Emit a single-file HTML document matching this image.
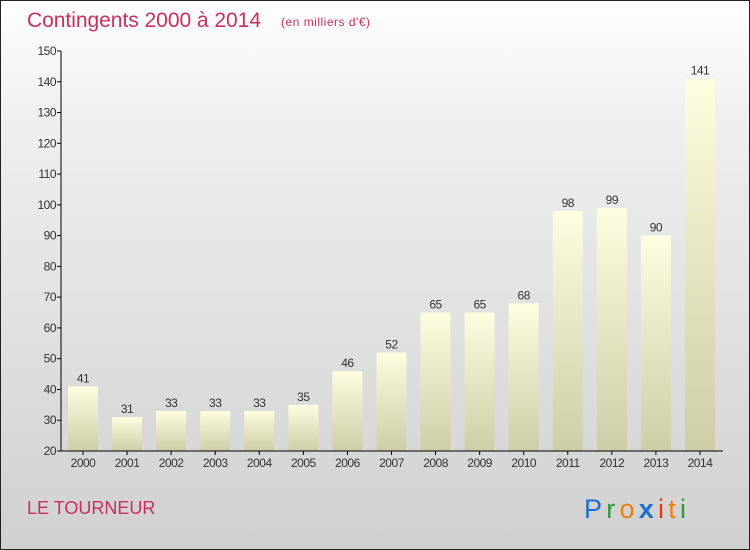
<!DOCTYPE html>
<html><head><meta charset="utf-8"><style>
body{margin:0}
#c{position:relative;width:748px;height:548px;border:1px solid #222;background:linear-gradient(#fefefe,#f0f0f0 20%,#d0d0d0);font-family:"Liberation Sans",sans-serif;overflow:hidden}
</style></head><body>
<div id="c">
<svg width="748" height="548" viewBox="0 0 748 548" font-family="Liberation Sans, sans-serif">
<defs><linearGradient id="bg" x1="0" y1="0" x2="0" y2="1"><stop offset="0" stop-color="#fdfde0"/><stop offset="1" stop-color="#cdcda6"/></linearGradient></defs>
<text x="26" y="26" font-size="21" fill="#c8305f" textLength="234">Contingents 2000 à 2014</text>
<text x="280" y="25" font-size="12" fill="#c8305f" textLength="89">(en milliers d'€)</text>
<g id="plot"></g>
<text x="26" y="513" font-size="18" fill="#c8305f">LE TOURNEUR</text>
<text x="583" y="517" font-size="27" textLength="102"><tspan fill="#1a6fd0">P</tspan><tspan fill="#2a9a3a">r</tspan><tspan fill="#f07d10">o</tspan><tspan fill="#1a6fd0" font-weight="bold">x</tspan><tspan fill="#e03a10">i</tspan><tspan fill="#f07d10">t</tspan><tspan fill="#2a9a3a">i</tspan></text>
</svg></div>
<script>
const categories=["2000","2001","2002","2003","2004","2005","2006","2007","2008","2009","2010","2011","2012","2013","2014"];
const values=[41,31,33,33,33,35,46,52,65,65,68,98,99,90,141];
const yTicks=[20,30,40,50,60,70,80,90,100,110,120,130,140,150];
const NS="http://www.w3.org/2000/svg";
const g=document.getElementById('plot');
const y=v=>450-(v-20)*400/130;
const x=i=>82+i*44.07;
function el(t,a,txt){const e=document.createElementNS(NS,t);for(const k in a)e.setAttribute(k,a[k]);if(txt!=null)e.textContent=txt;g.appendChild(e);return e;}
yTicks.forEach(t=>{
 const tk=el('line',{x1:56,x2:60,y1:y(t),y2:y(t),stroke:'#000'});
 
 
 const lb=el('text',{x:55,y:y(t)+4,'font-size':12,'text-anchor':'end',fill:'#333','letter-spacing':'-0.5'},t);
 
 
});
categories.forEach((c,i)=>{
 const v=values[i];
 const r=el('rect',{x:x(i)-15,y:y(v),width:30,height:450-y(v),fill:'url(#bg)'});
 
 
 const vl=el('text',{x:x(i),y:y(v)-4,'font-size':12,'text-anchor':'middle',fill:'#333','letter-spacing':'-0.5'},v);
 
 
 const tk=el('line',{x1:x(i),x2:x(i),y1:450,y2:454,stroke:'#000'});
 
 
 const xl=el('text',{x:x(i),y:466,'font-size':12,'text-anchor':'middle',fill:'#333','letter-spacing':'-0.5'},c);
 
 
});
const ya=el('line',{x1:60,x2:60,y1:y(150),y2:450,stroke:'#000'});


const xa=el('line',{x1:60,x2:722,y1:450,y2:450,stroke:'#000'});


</script>
</body></html>
